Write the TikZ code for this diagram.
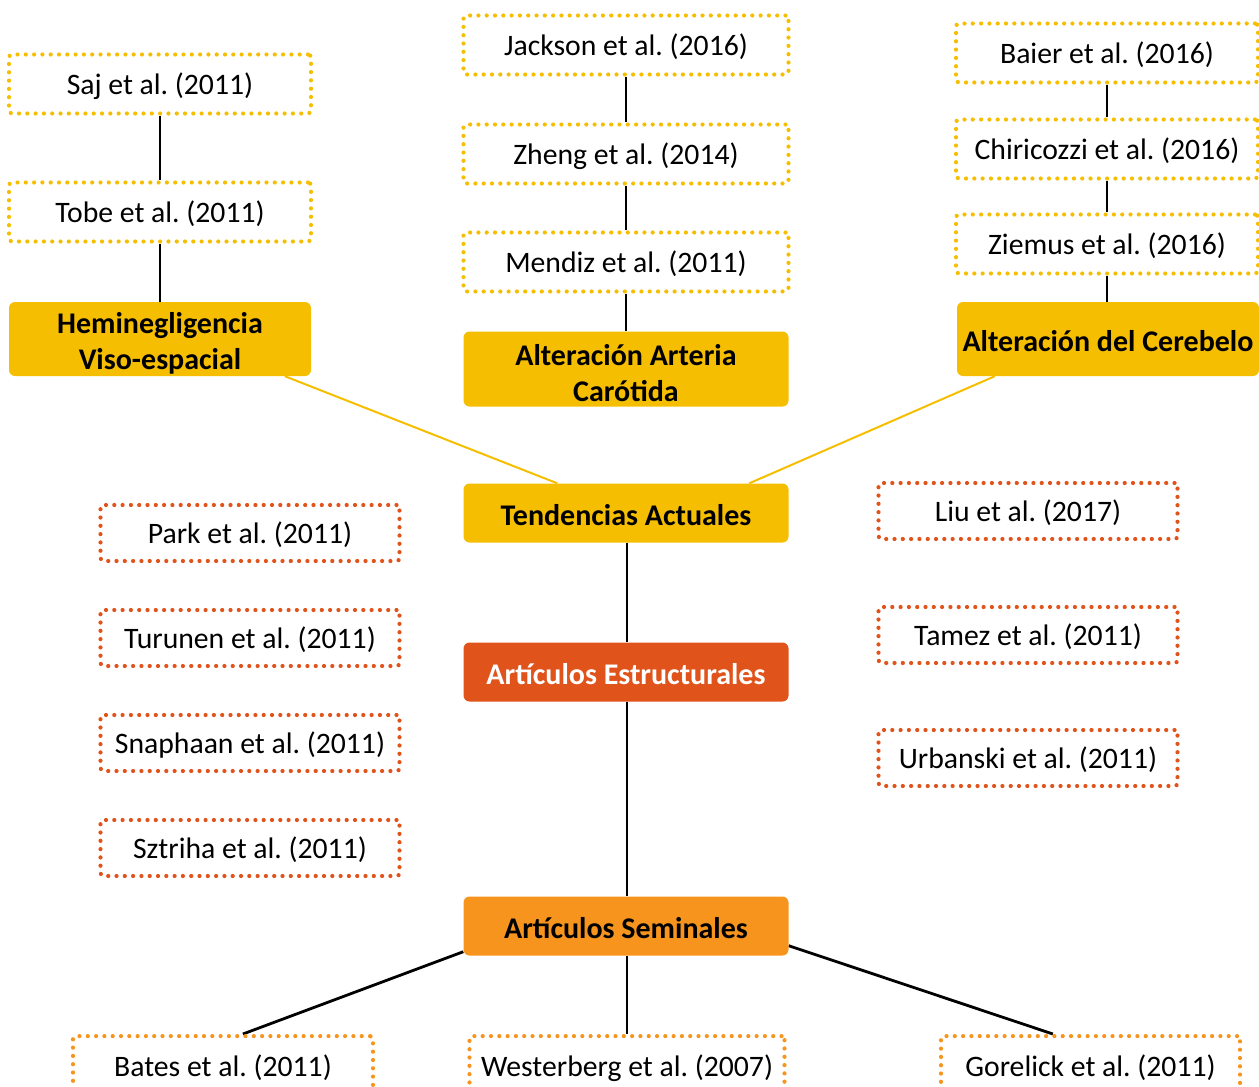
\documentclass[tikz,border=0pt]{standalone}
\usepackage{fontspec}
\setmainfont{Carlito}
\usetikzlibrary{calc,backgrounds}
\definecolor{gold}{HTML}{F6BE00}
\definecolor{redor}{HTML}{E0531B}
\definecolor{orng}{HTML}{F7941D}
\frenchspacing
\newcommand{\topstrut}{\rule{0pt}{29pt}}
\tikzset{
  ref/.style={draw=#1, line width=4.2pt, dash pattern=on 0pt off 8.3pt, line cap=round,
    rounded corners=3pt, inner sep=0pt, font=\fontsize{29.7}{34}\selectfont, text=black,
    text height=25pt, text depth=4pt},
  goldref/.style={ref=gold, minimum width=302pt, minimum height=59pt},
  wideref/.style={ref=gold, minimum width=325pt, minimum height=59pt},
  redref/.style={ref=redor, minimum width=299pt, minimum height=56pt},
  botref/.style={ref=orng, minimum height=60pt},
  cat/.style={fill=#1, rounded corners=6pt, inner sep=0pt, align=center,
    font=\bfseries\fontsize{30}{36}\selectfont},
  cat1/.style={cat=#1, text height=28pt, text depth=4pt},
  blk/.style={line width=2.8pt, black},
  gln/.style={line width=2pt, gold}
}
\begin{document}
\begin{tikzpicture}[x=1pt,y=-1pt]
\useasboundingbox (0,0) rectangle (1259,1087);
% left column
\node[goldref] (saj) at (160,84) {Saj et al. (2011)};
\node[goldref] (tobe) at (160,212) {Tobe et al. (2011)};
\node[cat=gold, minimum width=302pt, minimum height=74pt] (hem) at (160,339) {\topstrut Heminegligencia\\Viso-espacial};
% middle column
\node[wideref] (jack) at (626,45) {Jackson et al. (2016)};
\node[wideref] (zheng) at (626,154) {Zheng et al. (2014)};
\node[wideref] (mend) at (626,262) {Mendiz et al. (2011)};
\node[cat=gold, minimum width=325pt, minimum height=75pt] (art) at (626,369) {\topstrut Alteración Arteria\\Carótida};
% right column
\node[goldref] (baier) at (1107,53) {Baier et al. (2016)};
\node[goldref] (chir) at (1107,149) {Chiricozzi et al. (2016)};
\node[goldref] (ziem) at (1107,244) {Ziemus et al. (2016)};
\node[cat1=gold, minimum width=302pt, minimum height=74pt] (cer) at (1108,339) {Alteración del Cerebelo};
% center
\node[cat1=gold, minimum width=325pt, minimum height=59pt] (tend) at (626,513) {Tendencias Actuales};
\node[cat1=redor, text=white, minimum width=325pt, minimum height=59pt] (estr) at (626,672) {Artículos Estructurales};
\node[cat1=orng, minimum width=325pt, minimum height=59pt] (sem) at (626,926) {Artículos Seminales};
% red dotted boxes
\node[redref] (park) at (250,533) {Park et al. (2011)};
\node[redref] (turu) at (250,638) {Turunen et al. (2011)};
\node[redref] (snap) at (250,743) {Snaphaan et al. (2011)};
\node[redref] (sztr) at (250,848) {Sztriha et al. (2011)};
\node[redref] (liu) at (1028,511) {Liu et al. (2017)};
\node[redref] (tamez) at (1028,635) {Tamez et al. (2011)};
\node[redref] (urb) at (1028,758) {Urbanski et al. (2011)};
% bottom boxes
\node[botref, minimum width=300pt, anchor=north] (bates) at (223,1034) {Bates et al. (2011)};
\node[botref, minimum width=315pt, anchor=north] (west) at (627,1034) {Westerberg et al. (2007)};
\node[botref, minimum width=299pt, anchor=north] (gore) at (1090.5,1034) {Gorelick et al. (2011)};
% connectors
\begin{scope}[on background layer]
\draw[blk] (saj) -- (tobe);
\draw[blk] (tobe) -- (hem);
\draw[blk] (jack) -- (zheng);
\draw[blk] (zheng) -- (mend);
\draw[blk] (mend) -- (art);
\draw[blk] (baier) -- (chir);
\draw[blk] (chir) -- (ziem);
\draw[blk] (ziem.south) -- (ziem.south |- cer.north);
\draw[gln] ($(tend.north west)+(94,0)$) -- ($(hem.south west)+(276,0)$);
\draw[gln] ($(tend.north west)+(286,0)$) -- ($(cer.south west)+(38,0)$);
\draw[blk] ($(tend.south)+(1,0)$) -- ($(estr.north)+(1,0)$);
\draw[blk] ($(estr.south)+(1,0)$) -- ($(sem.north)+(1,0)$);
\draw[blk] ($(sem.south)+(1,0)$) -- (west.north);
\draw[blk] ($(sem.south west)+(0,-4)$) -- ($(bates.north west)+(172,0)$);
\draw[blk] ($(sem.south east)+(0,-10)$) -- ($(gore.north west)+(114,0)$);
\end{scope}
\end{tikzpicture}
\end{document}
